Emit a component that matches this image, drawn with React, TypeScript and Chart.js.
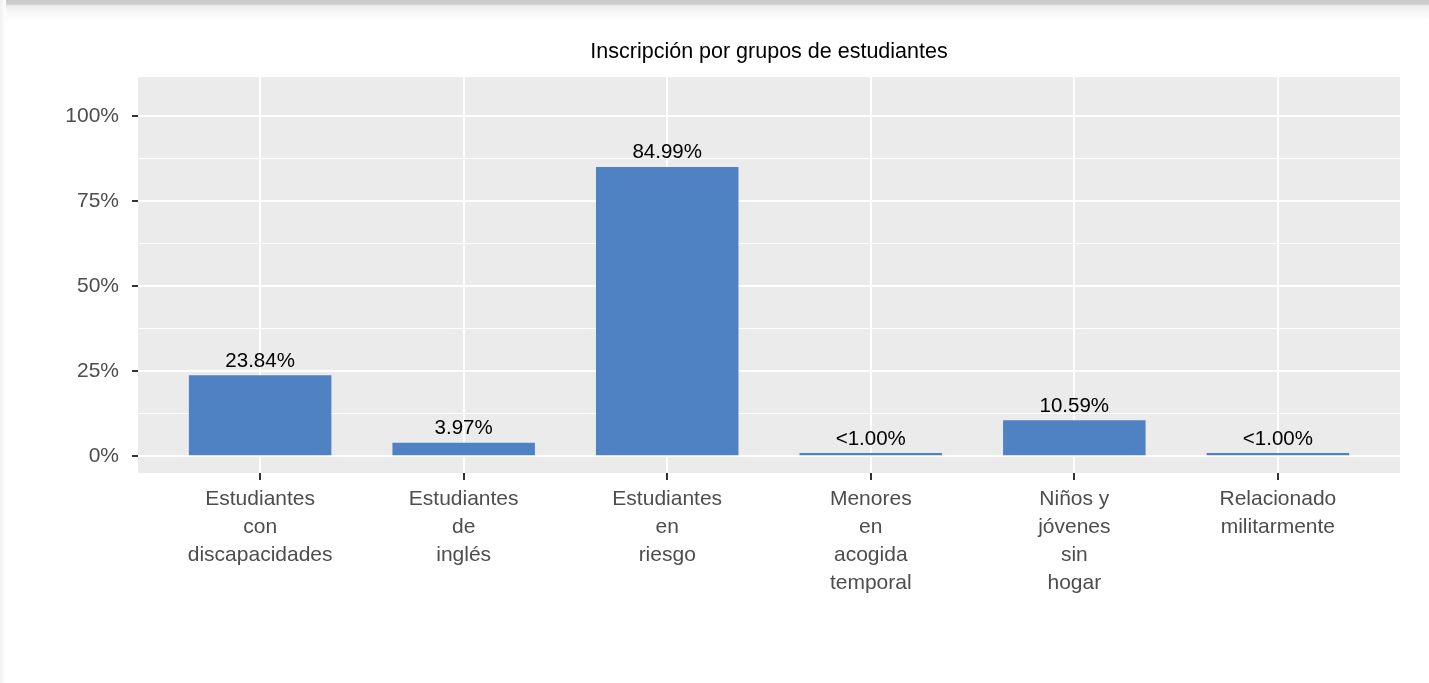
import React, { useEffect, useRef } from "react";
import { Chart, registerables } from "chart.js";

Chart.register(...registerables);

const chartTitle = "Inscripción por grupos de estudiantes";

const categories: string[][] = [
  ["Estudiantes", "con", "discapacidades"],
  ["Estudiantes", "de", "inglés"],
  ["Estudiantes", "en", "riesgo"],
  ["Menores", "en", "acogida", "temporal"],
  ["Niños y", "jóvenes", "sin", "hogar"],
  ["Relacionado", "militarmente"],
];

const values: number[] = [23.84, 3.97, 84.99, 0.95, 10.59, 0.95];

const valueLabels: string[] = ["23.84%", "3.97%", "84.99%", "<1.00%", "10.59%", "<1.00%"];

const yTickValues: number[] = [0, 12.5, 25, 37.5, 50, 62.5, 75, 87.5, 100];
const yTickLabels: string[] = ["0%", "", "25%", "", "50%", "", "75%", "", "100%"];

const FONT = "'Liberation Sans', Arial, Helvetica, sans-serif";

export default function App() {
  const ref = useRef<HTMLCanvasElement | null>(null);

  useEffect(() => {
    document.body.style.margin = "0";
    const canvas = ref.current;
    if (!canvas) return;

    const panelPlugin = {
      id: "panelBg",
      beforeDraw(chart: any) {
        const { ctx, chartArea: a } = chart;
        ctx.save();
        ctx.fillStyle = "#EBEBEB";
        ctx.fillRect(a.left, a.top, a.right - a.left, a.bottom - a.top);
        ctx.restore();
      },
    };

    const overlayPlugin = {
      id: "overlay",
      afterDraw(chart: any) {
        const { ctx, chartArea: a } = chart;
        ctx.save();
        ctx.fillStyle = "#000000";
        ctx.textAlign = "center";
        ctx.textBaseline = "alphabetic";
        ctx.font = `21.5px ${FONT}`;
        ctx.fillText(chartTitle, (a.left + a.right) / 2, 57.5);

        const meta = chart.getDatasetMeta(0);
        ctx.font = `20.5px ${FONT}`;
        meta.data.forEach((el: any, i: number) => {
          ctx.fillText(valueLabels[i], el.x, el.y - 8.5);
        });
        ctx.restore();
      },
    };

    const chart = new Chart(canvas, {
      type: "bar",
      data: {
        datasets: [
          {
            data: values.map((v, i) => ({ x: i, y: v })),
            backgroundColor: "#4F82C3",
            borderWidth: 0,
            barPercentage: 0.7,
            categoryPercentage: 1,
          },
        ],
      },
      options: {
        animation: false,
        responsive: false,
        events: [],
        layout: { padding: { left: 0, right: 29, top: 77, bottom: 0 } },
        plugins: {
          legend: { display: false },
          tooltip: { enabled: false },
          title: { display: false },
        },
        scales: {
          x: {
            type: "linear",
            min: -0.6,
            max: 5.6,
            offset: false,
            border: { display: false },
            grid: {
              offset: false,
              color: "#FFFFFF",
              lineWidth: 2,
              tickLength: 7,
              tickColor: "#333333",
              tickWidth: 2,
            },
            ticks: {
              autoSkip: false,
              maxRotation: 0,
              minRotation: 0,
              padding: 5,
              color: "#4D4D4D",
              font: { family: FONT, size: 21, lineHeight: 28 / 21 },
              callback: (v: any) => categories[Math.round(Number(v))] ?? "",
            },
            afterBuildTicks: (s: any) => {
              s.ticks = categories.map((_, i) => ({ value: i }));
            },
            afterFit: (s: any) => {
              s.height = 210;
            },
          },
          y: {
            type: "linear",
            min: -4.9,
            max: 111.4,
            border: { display: false },
            grid: {
              color: "#FFFFFF",
              lineWidth: (c: any) => (c.tick && c.tick.value % 25 === 0 ? 2 : 1),
              tickLength: 6,
              tickColor: (c: any) =>
                c.tick && c.tick.value % 25 === 0 ? "#333333" : "rgba(0,0,0,0)",
              tickWidth: 2,
            },
            ticks: {
              padding: 13,
              color: "#4D4D4D",
              font: { family: FONT, size: 21 },
              callback: (v: any) => {
                const idx = yTickValues.indexOf(Number(v));
                return idx >= 0 ? yTickLabels[idx] : "";
              },
            },
            afterBuildTicks: (s: any) => {
              s.ticks = yTickValues.map((v) => ({ value: v }));
            },
            afterFit: (s: any) => {
              s.width = 138;
            },
          },
        },
      },
      plugins: [panelPlugin, overlayPlugin],
    } as any);

    return () => {
      chart.destroy();
    };
  }, []);

  return (
    <div
      style={{
        position: "relative",
        width: 1429,
        height: 683,
        background: "#FFFFFF",
        overflow: "hidden",
      }}
    >
      <canvas
        ref={ref}
        width={1429}
        height={683}
        style={{ position: "absolute", left: 0, top: 0, display: "block" }}
      />
      <div
        style={{
          position: "absolute",
          left: 0,
          top: 0,
          width: 1429,
          height: 22,
          pointerEvents: "none",
          background:
            "linear-gradient(to bottom, #C9C9C9 0px, #CDCDCD 4px, #EDEDED 6px, #F7F7F7 12px, #FFFFFF 21px)",
        }}
      />
      <div
        style={{
          position: "absolute",
          left: 0,
          top: 0,
          width: 6,
          height: 683,
          pointerEvents: "none",
          background: "linear-gradient(to right, #F1F1F1 0px, #FFFFFF 6px)",
        }}
      />
    </div>
  );
}
